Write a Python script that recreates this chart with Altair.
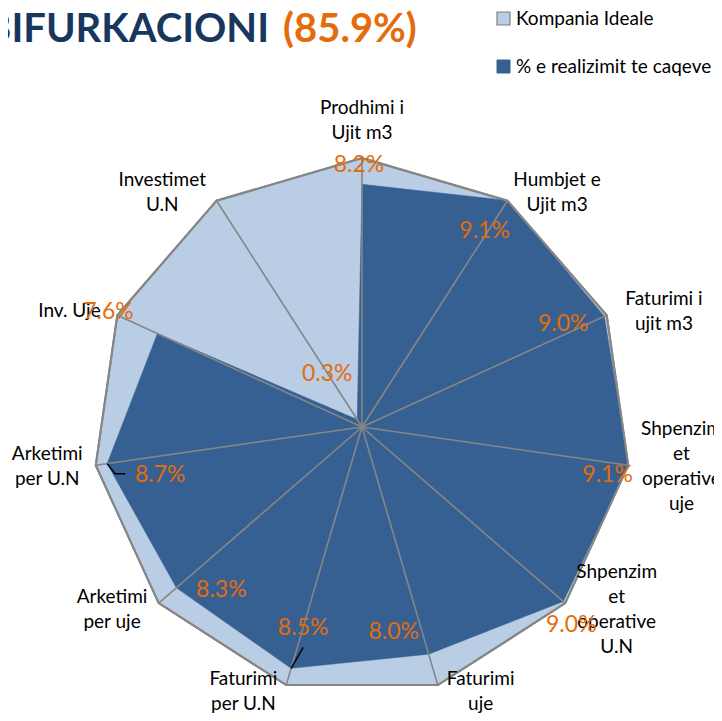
import numpy as np
import pandas as pd
import altair as alt

# ---------------- data ----------------
categories = [
    "Prodhimi i\nUjit m3",
    "Humbjet e\nUjit m3",
    "Faturimi i\nujit m3",
    "Shpenzim\net\noperative\nuje",
    "Shpenzim\net\noperative\nU.N",
    "Faturimi\nuje",
    "Faturimi\nper U.N",
    "Arketimi\nper uje",
    "Arketimi\nper U.N",
    "Inv. Uje",
    "Investimet\nU.N",
]
ideale = [9.09, 9.09, 9.09, 9.09, 9.09, 9.09, 9.09, 9.09, 9.09, 9.09, 9.09]
realizimi = [8.2, 9.1, 9.0, 9.1, 9.0, 8.0, 8.5, 8.3, 8.7, 7.6, 0.3]
series_names = ["Kompania Ideale", "% e realizimit te caqeve"]
title_main = "BIFURKACIONI"
title_pct = "(85.9%)"

# ---------------- layout / style ----------------
W, H = 706, 705          # svg size (page margin 8px)
CX, CY = 354, 419        # centre of the radar in svg pixels
R_PX = 269               # pixel radius of the outer ring
LINE_H = 25
LIGHT = "#B9CDE5"
DARK = "#376092"
GRID = "#868686"
ORANGE = "#E46C0A"
NAVY = "#17375E"
FONT = "Lato"
# manual nudges (px, y down) of the value labels, as placed in the original
value_label_nudge = [(-3, -19), (-23, 31), (-41, 8), (-21, 10), (8, 24), (-35, -22),
                     (12, -40), (45, 2), (53, 11), (-49, -22), (-30, -46)]
# leader lines (px offsets from the data point) for the dragged labels
leader_paths = {6: [(0, 0), (12, -21)], 8: [(0, 0), (8, 10), (18, 10)]}

n = len(categories)
k = R_PX / max(ideale)                 # px per percentage point
theta = np.arange(n) * 2 * np.pi / n
s, c = np.sin(theta), np.cos(theta)
ide = np.array(ideale)
rea = np.array(realizimi)

light_df = pd.DataFrame({"idx": range(n), "x": ide * s, "y": ide * c,
                         "x0": 0.0, "y0": 0.0})
dark_df = pd.DataFrame({"idx": range(n), "x": rea * s, "y": rea * c})

# category labels just outside the outer vertices (y = first line)
lx, ly = [], []
for i, txt in enumerate(categories):
    lines = txt.split("\n")
    hw = max(len(l) for l in lines) * 4.7
    hh = len(lines) * LINE_H / 2
    if abs(s[i]) < 0.1:
        dx = 0.0
        dy = -(hh + 13) if c[i] > 0 else hh + 13
    else:
        dx = np.sign(s[i]) * (hw + 3 + 8 * abs(s[i]))
        dy = min(-c[i] * 10, 6)
    dy -= (len(lines) - 1) * LINE_H / 2     # block centred -> first line position
    lx.append((ide[i] * k * s[i] + dx) / k)
    ly.append((ide[i] * k * c[i] - dy) / k)
cat_df = pd.DataFrame({"label": categories, "x": lx, "y": ly})

vx, vy = [], []
for i, v in enumerate(realizimi):
    ndx, ndy = value_label_nudge[i]
    vx.append((v * k * s[i] + ndx) / k)
    vy.append((v * k * c[i] - ndy) / k)
val_df = pd.DataFrame({"label": [f"{v:.1f}%" for v in realizimi], "x": vx, "y": vy})

lead_rows = []
for i, pts in leader_paths.items():
    v = realizimi[i]
    for j, (ox, oy) in enumerate(pts):
        lead_rows.append({"leader": i, "ord": j,
                          "x": (v * k * s[i] + ox) / k,
                          "y": (v * k * c[i] - oy) / k})
lead_df = pd.DataFrame(lead_rows)

xs = alt.Scale(domain=[-CX / k, (W - CX) / k], nice=False, zero=False)
ys = alt.Scale(domain=[-(H - CY) / k, CY / k], nice=False, zero=False)
X = alt.X("x:Q", scale=xs, axis=None)
Y = alt.Y("y:Q", scale=ys, axis=None)

light = alt.Chart(light_df).mark_line(
    interpolate="linear-closed", fill=LIGHT, stroke=GRID, strokeWidth=2
).encode(x=X, y=Y, order=alt.Order("idx:Q"))

dark = alt.Chart(dark_df).mark_line(
    interpolate="linear-closed", fill=DARK, stroke=DARK, strokeWidth=0.5
).encode(x=X, y=Y, order=alt.Order("idx:Q"))

spokes = alt.Chart(light_df).mark_rule(color=GRID, strokeWidth=1.6).encode(
    x=alt.X("x0:Q", scale=xs, axis=None), y=alt.Y("y0:Q", scale=ys, axis=None),
    x2="x:Q", y2="y:Q")

ring = alt.Chart(light_df).mark_line(
    interpolate="linear-closed", color=GRID, strokeWidth=2
).encode(x=X, y=Y, order=alt.Order("idx:Q"))

leaders = alt.Chart(lead_df).mark_line(color="#000000", strokeWidth=1.5).encode(
    x=X, y=Y, detail="leader:N", order=alt.Order("ord:Q"))

cat_text = alt.Chart(cat_df).mark_text(
    font=FONT, fontSize=19, color="#000000", lineBreak="\n", lineHeight=LINE_H,
    align="center", baseline="middle"
).encode(x=X, y=Y, text="label:N")

val_text = alt.Chart(val_df).mark_text(
    font=FONT, fontSize=23, color=ORANGE, align="center", baseline="middle"
).encode(x=X, y=Y, text="label:N")

dummy = pd.DataFrame({"a": [0]})
t1 = alt.Chart(dummy).mark_text(
    text=title_main, font=FONT, fontSize=40, fontWeight="bold", color=NAVY,
    align="right", baseline="alphabetic"
).encode(x=alt.value(261), y=alt.value(34))
t2 = alt.Chart(dummy).mark_text(
    text=title_pct, font=FONT, fontSize=40, fontWeight="bold", color=ORANGE,
    align="left", baseline="alphabetic"
).encode(x=alt.value(275), y=alt.value(34))

sq1 = alt.Chart(dummy).mark_rect(fill=LIGHT, stroke="#7F7F7F", strokeWidth=1.2).encode(
    x=alt.value(489), x2=alt.value(502), y=alt.value(4), y2=alt.value(17))
sq2 = alt.Chart(dummy).mark_rect(fill=DARK, stroke=DARK, strokeWidth=1).encode(
    x=alt.value(489), x2=alt.value(502), y=alt.value(52), y2=alt.value(65))
lg1 = alt.Chart(dummy).mark_text(
    text=series_names[0], font=FONT, fontSize=19, color="#000000",
    align="left", baseline="middle").encode(x=alt.value(508), y=alt.value(10.5))
lg2 = alt.Chart(dummy).mark_text(
    text=series_names[1], font=FONT, fontSize=19, color="#000000",
    align="left", baseline="middle").encode(x=alt.value(508), y=alt.value(58.5))

chart = alt.layer(
    light, dark, spokes, ring, leaders, cat_text, val_text,
    t1, t2, sq1, sq2, lg1, lg2
).properties(
    width=W, height=H, padding=0,
    autosize=alt.AutoSizeParams(type="none"),
).configure_view(stroke=None)

chart.save("out.html", embed_options={"renderer": "svg", "actions": False})
